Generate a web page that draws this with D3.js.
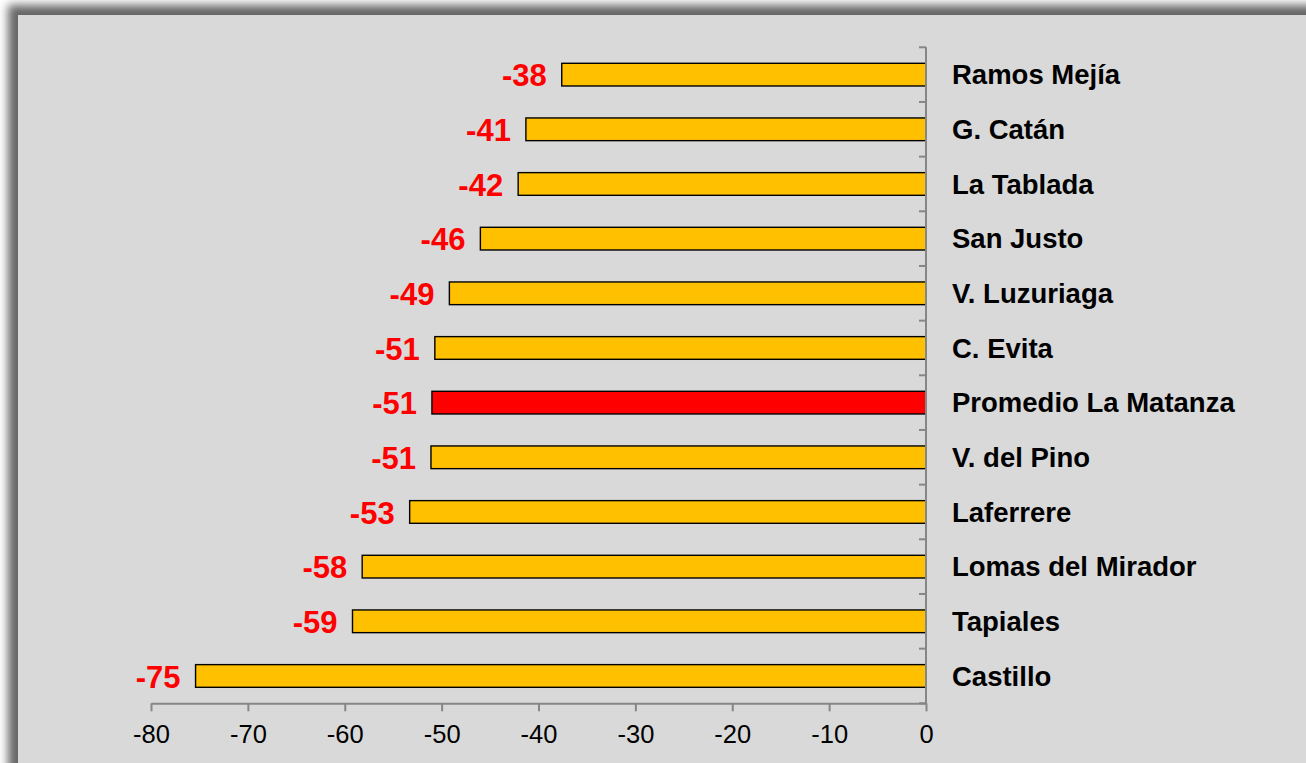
<!DOCTYPE html>
<html>
<head>
<meta charset="utf-8">
<script src="https://cdn.jsdelivr.net/npm/d3@7"></script>
<style>
  body { margin: 0; background: #fff; }
  svg { display: block; font-family: Arial, "Liberation Sans", sans-serif; }
</style>
</head>
<body>
<div class="chart"></div>
<script>
var localidades = ["Ramos Mejía", "G. Catán", "La Tablada", "San Justo", "V. Luzuriaga", "C. Evita",
  "Promedio La Matanza", "V. del Pino", "Laferrere", "Lomas del Mirador", "Tapiales", "Castillo"];
var variacion = [-37.6, -41.3, -42.1, -46.0, -49.2, -50.7, -51.0, -51.1, -53.3, -58.2, -59.2, -75.4];
var xTicks = [-80, -70, -60, -50, -40, -30, -20, -10, 0];
var promedio = "Promedio La Matanza";

var svgWidth = 1306;
var svgHeight = 763;

var margin = {top: 47.3, right: 380, bottom: 59.7, left: 151};
var width = svgWidth - margin.left - margin.right;   // 775
var height = svgHeight - margin.top - margin.bottom; // 656

var data = localidades.map(function(d, i) { return {name: d, value: variacion[i]}; });

// plain hyphen instead of the unicode minus d3 uses
var fmt = d => d3.format(".0f")(d).replace("\u2212", "-");

var svg = d3.select(".chart")
  .append("svg")
  .attr("width", svgWidth)
  .attr("height", svgHeight);

// panel with soft shadow to the top-left
var defs = svg.append("defs");
var shadow = defs.append("filter").attr("id", "shadow")
  .attr("x", "-5%").attr("y", "-5%").attr("width", "110%").attr("height", "110%");
shadow.append("feDropShadow")
  .attr("dx", -10).attr("dy", -10).attr("stdDeviation", 5)
  .attr("flood-color", "#000").attr("flood-opacity", 0.6);

svg.append("rect")
  .attr("x", 18).attr("y", 15)
  .attr("width", svgWidth + 40).attr("height", svgHeight + 40)
  .attr("fill", "#d9d9d9")
  .attr("filter", "url(#shadow)");

var chartGroup = svg.append("g")
  .attr("transform", `translate(${margin.left}, ${margin.top})`);

var xScale = d3.scaleLinear()
  .domain([-80, 0])
  .range([0, width]);

var yScale = d3.scaleBand()
  .domain(localidades)
  .range([0, height])
  .paddingInner(0.585)
  .paddingOuter(0.2925);

// x axis
var bottomAxis = d3.axisBottom(xScale)
  .tickValues(xTicks)
  .tickSize(8)
  .tickSizeOuter(0)
  .tickPadding(14)
  .tickFormat(fmt);

var xAxisG = chartGroup.append("g")
  .attr("transform", `translate(0, ${height})`)
  .call(bottomAxis);
xAxisG.selectAll("path, line").attr("stroke", "#868686").attr("stroke-width", 2);
xAxisG.selectAll("text")
  .attr("fill", "#000")
  .style("font-family", "Arial, 'Liberation Sans', sans-serif")
  .style("font-size", "25.5px");

// bars
chartGroup.selectAll(".bar")
  .data(data)
  .enter()
  .append("rect")
  .attr("class", "bar")
  .attr("x", d => xScale(d.value))
  .attr("y", d => yScale(d.name))
  .attr("width", d => xScale(0) - xScale(d.value))
  .attr("height", yScale.bandwidth())
  .attr("fill", d => d.name === promedio ? "#ff0000" : "#ffc000")
  .attr("stroke", "#000")
  .attr("stroke-width", 1.4);

// y axis line with ticks between categories
var step = yScale.step();
var bounds = d3.range(localidades.length + 1).map(i => i * step);
chartGroup.append("line")
  .attr("x1", xScale(0)).attr("x2", xScale(0))
  .attr("y1", 0).attr("y2", height)
  .attr("stroke", "#868686").attr("stroke-width", 2);
chartGroup.selectAll(".ytick")
  .data(bounds)
  .enter()
  .append("line")
  .attr("class", "ytick")
  .attr("x1", xScale(0) - 7).attr("x2", xScale(0))
  .attr("y1", d => d).attr("y2", d => d)
  .attr("stroke", "#868686").attr("stroke-width", 2);

// category labels
chartGroup.selectAll(".cat")
  .data(data)
  .enter()
  .append("text")
  .attr("class", "cat")
  .attr("x", xScale(0) + 26)
  .attr("y", d => yScale(d.name) + yScale.bandwidth() / 2)
  .attr("dy", "0.35em")
  .attr("font-size", "27.5px")
  .attr("font-weight", "bold")
  .attr("fill", "#000")
  .text(d => d.name);

// value labels
chartGroup.selectAll(".val")
  .data(data)
  .enter()
  .append("text")
  .attr("class", "val")
  .attr("x", d => xScale(d.value) - 15)
  .attr("y", d => yScale(d.name) + yScale.bandwidth() / 2)
  .attr("dy", "0.38em")
  .attr("text-anchor", "end")
  .attr("font-size", "31px")
  .attr("font-weight", "bold")
  .attr("fill", "#ff0000")
  .text(d => fmt(d.value));
</script>
</body>
</html>
